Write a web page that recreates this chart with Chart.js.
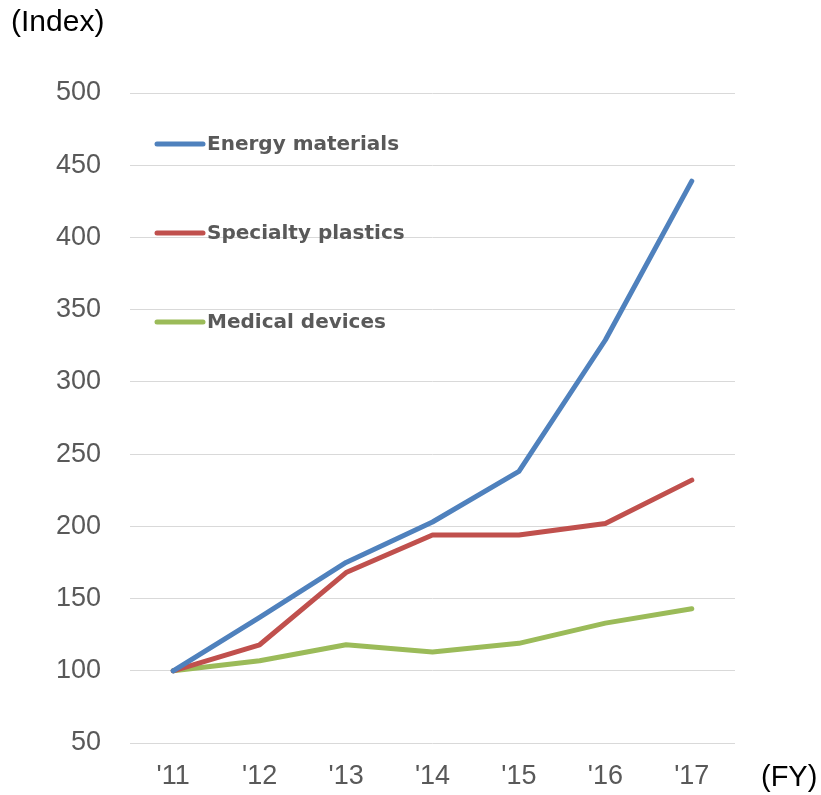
<!DOCTYPE html>
<html>
<head>
<meta charset="utf-8">
<script src="https://cdn.jsdelivr.net/npm/chart.js@4/dist/chart.umd.min.js"></script>
<style>
  html, body { margin: 0; padding: 0; background: #ffffff; }
  #wrap { width: 821px; height: 795px; position: relative; }
</style>
</head>
<body>
<div id="wrap"><canvas id="c" width="821" height="795"></canvas></div>
<script>
const categories = ["'11", "'12", "'13", "'14", "'15", "'16", "'17"];
const energyMaterials = [100, 137, 175, 203, 238, 329, 439];
const specialtyPlastics = [100, 118, 168, 194, 194, 202, 232];
const medicalDevices = [100, 107, 118, 113, 119, 133, 143];
const seriesLabels = ["Energy materials", "Specialty plastics", "Medical devices"];
const yAxisTitle = "(Index)";
const xAxisTitle = "(FY)";
const yMin = 50, yMax = 500, yStep = 50;

const colors = ["#4F81BD", "#C0504D", "#9BBB59"];

const legendPlugin = {
  id: 'inlineLegend',
  afterDatasetsDraw(chart) {
    const ctx = chart.ctx;
    const ys = [144, 233, 322];
    ctx.save();
    chart.data.datasets.forEach((ds, i) => {
      ctx.strokeStyle = ds.borderColor;
      ctx.lineWidth = 5;
      ctx.lineCap = 'round';
      ctx.beginPath();
      ctx.moveTo(157, ys[i]);
      ctx.lineTo(203, ys[i]);
      ctx.stroke();
      ctx.fillStyle = '#595959';
      ctx.font = 'bold 20px "DejaVu Sans", Verdana, sans-serif';
      ctx.textAlign = 'left';
      ctx.textBaseline = 'middle';
      ctx.fillText(ds.label, 207, ys[i] + 1);
    });
    ctx.restore();
  }
};

const titlesPlugin = {
  id: 'axisTitles',
  afterDraw(chart) {
    const ctx = chart.ctx;
    ctx.save();
    ctx.fillStyle = '#000000';
    ctx.textBaseline = 'middle';
    ctx.textAlign = 'left';
    ctx.font = '30px "Liberation Sans", Arial, sans-serif';
    ctx.fillText(yAxisTitle, 11, 23);
    ctx.font = '29px "Liberation Sans", Arial, sans-serif';
    ctx.fillText(xAxisTitle, 761, 778);
    ctx.restore();
  }
};

const mkDs = (label, data, color) => ({
  label, data,
  borderColor: color,
  backgroundColor: color,
  borderWidth: 5,
  pointRadius: 0,
  pointHoverRadius: 0,
  tension: 0,
  borderJoinStyle: 'round',
  borderCapStyle: 'round',
  fill: false
});

new Chart(document.getElementById('c'), {
  type: 'line',
  data: {
    labels: categories,
    datasets: [
      mkDs(seriesLabels[0], energyMaterials, colors[0]),
      mkDs(seriesLabels[1], specialtyPlastics, colors[1]),
      mkDs(seriesLabels[2], medicalDevices, colors[2])
    ]
  },
  options: {
    responsive: false,
    devicePixelRatio: 1,
    animation: false,
    layout: { padding: { top: 93, right: 86, left: 0, bottom: 0 } },
    plugins: { legend: { display: false }, tooltip: { enabled: false } },
    scales: {
      x: {
        offset: true,
        grid: { display: false, drawTicks: false },
        border: { display: false },
        ticks: {
          color: '#595959',
          font: { family: '"Liberation Sans", Arial, sans-serif', size: 27 },
          padding: 17,
          maxRotation: 0
        },
        afterFit(scale) { scale.height = 52; }
      },
      y: {
        min: yMin, max: yMax,
        grid: { color: '#d9d9d9', lineWidth: 1, drawTicks: false },
        border: { display: false },
        ticks: {
          stepSize: yStep,
          color: '#595959',
          font: { family: '"Liberation Sans", Arial, sans-serif', size: 27 },
          padding: 29
        },
        afterFit(scale) { scale.width = 130; }
      }
    }
  },
  plugins: [legendPlugin, titlesPlugin]
});
</script>
</body>
</html>
